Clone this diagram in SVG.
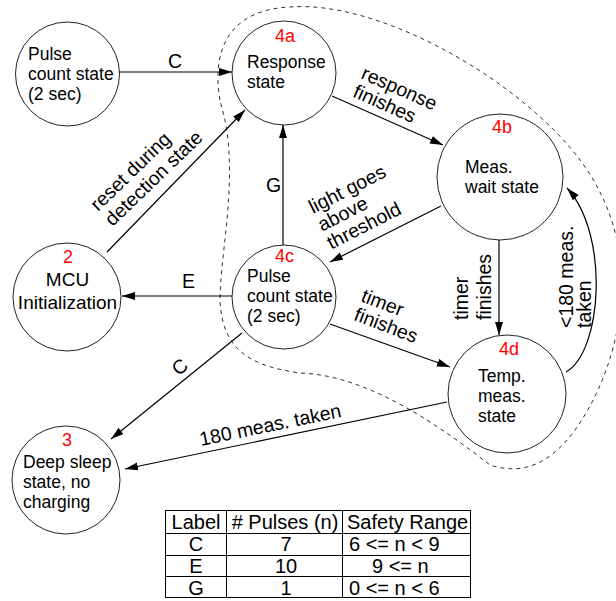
<svg xmlns="http://www.w3.org/2000/svg" width="616" height="601" viewBox="0 0 616 601">
  <defs>
    <marker id="arrow" markerUnits="userSpaceOnUse" markerWidth="14" markerHeight="10" refX="13" refY="4" orient="auto">
      <path d="M0,0 L13,4 L0,8 Z" fill="#000"/>
    </marker>
  </defs>
  <style>
    text { font-family: "Liberation Sans", Arial, sans-serif; fill: #000; }
    .state { fill: #fff; stroke: #222; stroke-width: 1; }
    .node { font-size: 17.5px; }
    .big { font-size: 19px; }
    .num { font-size: 18px; fill: #ff0000; }
    .edge { fill: none; stroke: #000; stroke-width: 1.2; marker-end: url(#arrow); }
    .lbl { font-size: 19.5px; }
    .boundary { fill: none; stroke: #333; stroke-width: 1; stroke-dasharray: 4 4; }
    .grid { fill: none; stroke: #000; stroke-width: 1; }
    .cell { font-size: 20px; }
    .mid { text-anchor: middle; }
  </style>

  <rect x="0" y="0" width="616" height="601" fill="#fff"/>

  <!-- boundary of the detection sub-states -->
  <path class="boundary" d="M220,100 C212,55 225,10 290,7 C380,0 520,80 580,160 C640,240 625,330 598,390 C570,450 535,480 490,465 C445,430 370,375 300,373 C250,366 222,350 220,300 C220,260 234,200 228,140 C226,120 222,110 220,100 Z"/>

  <!-- states -->
  <g id="pulse-count-top">
    <circle class="state" cx="67.5" cy="74" r="52"/>
    <text class="node"><tspan x="28" y="60">Pulse</tspan><tspan x="28" y="80">count state</tspan><tspan x="28" y="100">(2 sec)</tspan></text>
  </g>
  <g id="state-4a">
    <circle class="state" cx="284" cy="73" r="52"/>
    <text class="num" x="275" y="42">4a</text>
    <text class="node"><tspan x="247" y="68">Response</tspan><tspan x="247" y="88">state</tspan></text>
  </g>
  <g id="state-4b">
    <circle class="state" cx="500" cy="177" r="63"/>
    <text class="num" x="492" y="133">4b</text>
    <text class="node"><tspan x="465" y="173">Meas.</tspan><tspan x="465" y="193">wait state</tspan></text>
  </g>
  <g id="state-2">
    <circle class="state" cx="67" cy="297" r="54"/>
    <text class="num mid" x="68" y="263">2</text>
    <text class="big mid"><tspan x="67.5" y="286">MCU</tspan><tspan x="67.5" y="309">Initialization</tspan></text>
  </g>
  <g id="state-4c">
    <circle class="state" cx="284" cy="297" r="52"/>
    <text class="num" x="275" y="262">4c</text>
    <text class="node"><tspan x="247" y="282">Pulse</tspan><tspan x="247" y="302">count state</tspan><tspan x="247" y="322">(2 sec)</tspan></text>
  </g>
  <g id="state-4d">
    <circle class="state" cx="507" cy="394" r="59"/>
    <text class="num" x="499" y="355">4d</text>
    <text class="node"><tspan x="478" y="382">Temp.</tspan><tspan x="478" y="402">meas.</tspan><tspan x="478" y="422">state</tspan></text>
  </g>
  <g id="state-3">
    <circle class="state" cx="66" cy="480" r="54"/>
    <text class="num mid" x="67" y="446">3</text>
    <text class="node"><tspan x="23" y="468">Deep sleep</tspan><tspan x="23" y="488">state, no</tspan><tspan x="23" y="508">charging</tspan></text>
  </g>

  <!-- transitions -->
  <g id="connectors">
    <path class="edge" d="M119,72 L232,72"/>
    <path class="edge" d="M332,96 L443,145"/>
    <path class="edge" d="M441,206 L330,262"/>
    <path class="edge" d="M283,245 L283,125"/>
    <path class="edge" d="M107,252 L245,110"/>
    <path class="edge" d="M232,296 L122,296"/>
    <path class="edge" d="M242,333 L111,439"/>
    <path class="edge" d="M330,324 L450,367"/>
    <path class="edge" d="M499,240 L499,335"/>
    <path class="edge" d="M566,372 C602,352 610,235 567,188"/>
    <path class="edge" d="M447,402 L125,469"/>
  </g>

  <!-- transition labels -->
  <g id="labels" class="lbl">
    <text class="lbl" x="168" y="68">C</text>
    <text class="lbl" transform="translate(360,78) rotate(24)"><tspan x="0" y="0">response</tspan><tspan x="0" y="20">finishes</tspan></text>
    <text class="lbl" transform="translate(313,214) rotate(-27)"><tspan x="0" y="0">light goes</tspan><tspan x="0" y="20">above</tspan><tspan x="0" y="40">threshold</tspan></text>
    <text class="lbl" x="266" y="192">G</text>
    <text class="lbl" transform="translate(98,212) rotate(-44)"><tspan x="0" y="0">reset during</tspan><tspan x="0" y="21">detection state</tspan></text>
    <text class="lbl" x="182" y="288">E</text>
    <text class="lbl mid" transform="translate(184,372) rotate(-39)">C</text>
    <text class="lbl" transform="translate(360,301) rotate(21)"><tspan x="0" y="0">timer</tspan><tspan x="0" y="20">finishes</tspan></text>
    <text class="lbl" transform="translate(468,320) rotate(-90)"><tspan x="0" y="0">timer</tspan><tspan x="0" y="23">finishes</tspan></text>
    <text class="lbl" transform="translate(573,328) rotate(-90)"><tspan x="0" y="0">&lt;180 meas.</tspan><tspan x="0" y="18">taken</tspan></text>
    <text class="lbl" transform="translate(201,446) rotate(-11.7)">180 meas. taken</text>
  </g>

  <!-- pulse count table -->
  <g id="table">
    <rect class="grid" x="165.5" y="510.5" width="305" height="87"/>
    <line class="grid" x1="165.5" y1="533.5" x2="470.5" y2="533.5"/>
    <line class="grid" x1="165.5" y1="555.5" x2="470.5" y2="555.5"/>
    <line class="grid" x1="165.5" y1="576.5" x2="470.5" y2="576.5"/>
    <line class="grid" x1="226.5" y1="510.5" x2="226.5" y2="597.5"/>
    <line class="grid" x1="342.5" y1="510.5" x2="342.5" y2="597.5"/>
    <text class="cell mid" x="196" y="529">Label</text>
    <text class="cell mid" x="285" y="529"># Pulses (n)</text>
    <text class="cell" x="347" y="529">Safety Range</text>
    <text class="cell mid" x="196" y="551">C</text>
    <text class="cell mid" x="286" y="551">7</text>
    <text class="cell" x="349" y="551">6 &lt;= n &lt; 9</text>
    <text class="cell mid" x="196" y="573">E</text>
    <text class="cell mid" x="286" y="573">10</text>
    <text class="cell" x="372" y="573">9 &lt;= n</text>
    <text class="cell mid" x="196" y="595">G</text>
    <text class="cell mid" x="286" y="595">1</text>
    <text class="cell" x="349" y="595">0 &lt;= n &lt; 6</text>
  </g>
</svg>
